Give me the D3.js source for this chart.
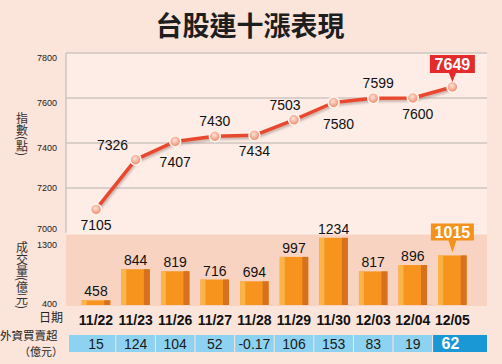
<!DOCTYPE html>
<html>
<head>
<meta charset="utf-8">
<script src="https://cdn.jsdelivr.net/npm/d3@7"></script>
<style>
  body { margin: 0; background: #fbe4da; }
  svg text { font-family: "Liberation Sans", Arial, sans-serif; }
  svg text.cjk { font-family: "Noto Sans CJK TC", "Noto Sans CJK SC", sans-serif; }
</style>
</head>
<body>
<div id="chart"></div>
<script>
// data
var dates = ["11/22", "11/23", "11/26", "11/27", "11/28", "11/29", "11/30", "12/03", "12/04", "12/05"];
var indexValues = [7105, 7326, 7407, 7430, 7434, 7503, 7580, 7599, 7600, 7649];
var volumeValues = [458, 844, 819, 716, 694, 997, 1234, 817, 896, 1015];
var foreignValues = ["15", "124", "104", "52", "-0.17", "106", "153", "83", "19", "62"];
var indexTicks = [7000, 7200, 7400, 7600, 7800];
var volumeTicks = [400, 1300];

var W = 502, H = 364;
var left = 66, right = 487;

var svg = d3.select("#chart").append("svg")
  .attr("width", W).attr("height", H);

var defs = svg.append("defs");
var grad = defs.append("radialGradient").attr("id", "dot")
  .attr("cx", "45%").attr("cy", "40%").attr("r", "60%");
grad.append("stop").attr("offset", "0%").attr("stop-color", "#fde3d6");
grad.append("stop").attr("offset", "100%").attr("stop-color", "#ef8467");
var shadow = defs.append("filter").attr("id", "shadow")
  .attr("x", "-10%").attr("y", "-20%").attr("width", "120%").attr("height", "160%");
shadow.append("feDropShadow").attr("dx", 1).attr("dy", 2)
  .attr("stdDeviation", 1).attr("flood-color", "#8a6a60").attr("flood-opacity", 0.45);

// background
svg.append("rect").attr("width", W).attr("height", H).attr("fill", "#fbe4da");

// scales
var x = d3.scaleBand().domain(dates).range([76.2, 472.2]).padding(0);
var cx = function (d) { return x(d) + x.bandwidth() / 2; };
var yTop = d3.scaleLinear().domain([7000, 7800]).range([233, 53]);
var yVol = d3.scaleLinear().domain([400, 1300]).range([305, 232.5]);

// title
svg.append("text").attr("class", "cjk")
  .attr("x", 250).attr("y", 36)
  .attr("text-anchor", "middle")
  .attr("font-size", 27).attr("font-weight", 700)
  .attr("fill", "#1e1e1e")
  .text("台股連十漲表現");

// top panel
svg.append("rect").attr("x", left).attr("y", 53)
  .attr("width", right - left).attr("height", 180)
  .attr("fill", "#fdede6");
svg.append("g").selectAll("line").data(indexTicks.slice(1)).enter().append("line")
  .attr("x1", left).attr("x2", right)
  .attr("y1", function (d) { return yTop(d); })
  .attr("y2", function (d) { return yTop(d); })
  .attr("stroke", "#cfc5c0").attr("stroke-width", 1.5);
svg.append("line").attr("x1", left).attr("x2", left)
  .attr("y1", 53).attr("y2", 233)
  .attr("stroke", "#cfc5c0").attr("stroke-width", 1.5);

var axTop = svg.append("g").attr("transform", "translate(57,0)")
  .call(d3.axisLeft(yTop).tickValues(indexTicks).tickFormat(d3.format("d")).tickSize(0).tickPadding(0));
axTop.select(".domain").remove();
axTop.selectAll("text")
  .attr("font-size", 9).attr("fill", "#222")
  .attr("font-family", "Liberation Sans, Arial, sans-serif")
  .attr("dy", function (d) { return d === 7000 ? "-0.2em" : d === 7200 ? "0.32em" : "0.85em"; });

// bottom panel
svg.append("rect").attr("x", left).attr("y", 233)
  .attr("width", right - left).attr("height", 73)
  .attr("fill", "#f9d3c2");
svg.append("line").attr("x1", left).attr("x2", right)
  .attr("y1", 233.5).attr("y2", 233.5)
  .attr("stroke", "#fdeee8").attr("stroke-width", 2);

var axVol = svg.append("g").attr("transform", "translate(57,0)")
  .call(d3.axisLeft(yVol).tickValues(volumeTicks).tickFormat(d3.format("d")).tickSize(0).tickPadding(0));
axVol.select(".domain").remove();
axVol.selectAll("text")
  .attr("font-size", 9).attr("fill", "#222")
  .attr("font-family", "Liberation Sans, Arial, sans-serif")
  .attr("dy", function (d) { return d === 1300 ? "1.7em" : "0.2em"; });

// vertical titles
svg.append("text").attr("class", "cjk")
  .attr("x", 22).attr("y", 112)
  .style("writing-mode", "vertical-rl")
  .attr("font-size", 12).attr("fill", "#333")
  .text("指數(點)");
svg.append("text").attr("class", "cjk")
  .attr("x", 22).attr("y", 241)
  .style("writing-mode", "vertical-rl")
  .attr("font-size", 12).attr("fill", "#333")
  .text("成交量(億元)");

// bars
var bw = 28.5;
var bars = svg.append("g").selectAll("g.bar").data(volumeValues).enter().append("g")
  .attr("class", "bar")
  .attr("transform", function (d, i) { return "translate(" + (cx(dates[i]) - bw / 2) + ",0)"; });
bars.append("rect")
  .attr("y", function (d) { return yVol(d); })
  .attr("width", bw)
  .attr("height", function (d) { return yVol(400) - yVol(d); })
  .attr("fill", "#f7941e");
bars.append("rect")
  .attr("y", function (d) { return yVol(d); })
  .attr("width", 5)
  .attr("height", function (d) { return yVol(400) - yVol(d); })
  .attr("fill", "#fbb447");
bars.append("rect")
  .attr("x", bw - 6)
  .attr("y", function (d) { return yVol(d); })
  .attr("width", 6)
  .attr("height", function (d) { return yVol(400) - yVol(d); })
  .attr("fill", "#d8711d");
bars.filter(function (d, i) { return i < volumeValues.length - 1; })
  .append("text")
  .attr("x", bw / 2)
  .attr("y", function (d) { return yVol(d) - 4; })
  .attr("text-anchor", "middle")
  .attr("font-size", 14).attr("fill", "#111")
  .text(function (d) { return d; });

// highlight last volume
var lastI = dates.length - 1;
var vx = cx(dates[lastI]), vTop = yVol(volumeValues[lastI]);
svg.append("path")
  .attr("d", "M" + (vx - 21.5) + "," + (vTop - 32) + "h43v17h-17.5l-4,12l-4,-12h-17.5z")
  .attr("fill", "#f5921e");
svg.append("text")
  .attr("x", vx).attr("y", vTop - 17.5)
  .attr("text-anchor", "middle")
  .attr("font-size", 16).attr("font-weight", 700).attr("fill", "#fff")
  .text(volumeValues[lastI]);

// index line
var line = d3.line()
  .x(function (d, i) { return cx(dates[i]); })
  .y(function (d) { return yTop(d); });
svg.append("path").datum(indexValues)
  .attr("d", line)
  .attr("fill", "none")
  .attr("stroke", "#e8492f").attr("stroke-width", 3.5)
  .attr("stroke-linejoin", "round")
  .attr("filter", "url(#shadow)");
svg.append("g").selectAll("circle").data(indexValues).enter().append("circle")
  .attr("cx", function (d, i) { return cx(dates[i]); })
  .attr("cy", function (d) { return yTop(d); })
  .attr("r", 5.5)
  .attr("fill", "url(#dot)")
  .attr("stroke", "#fff4ef").attr("stroke-width", 1.5);

// point labels, alternating below / above
svg.append("g").selectAll("text")
  .data(indexValues.slice(0, indexValues.length - 1)).enter().append("text")
  .attr("x", function (d, i) { return cx(dates[i]) + (i === 1 ? -23 : i === 5 ? -9 : i > 5 ? 5 : 0); })
  .attr("y", function (d, i) { return yTop(d) + (i % 2 === 0 ? (i === 2 || i === 6 ? 26 : 21) : -10); })
  .attr("text-anchor", "middle")
  .attr("font-size", 14).attr("fill", "#111")
  .text(function (d) { return d; });

// highlight last index
var px = cx(dates[lastI]), py = yTop(indexValues[lastI]);
svg.append("path")
  .attr("d", "M" + (px - 22.5) + "," + (py - 32) + "h45v18h-19l-3.5,9l-3.5,-9h-19z")
  .attr("fill", "#e42a2a");
svg.append("text")
  .attr("x", px).attr("y", py - 17)
  .attr("text-anchor", "middle")
  .attr("font-size", 16).attr("font-weight", 700).attr("fill", "#fff")
  .text(indexValues[lastI]);

// date row
svg.append("text").attr("class", "cjk")
  .attr("x", 63).attr("y", 322)
  .attr("text-anchor", "end")
  .attr("font-size", 12).attr("fill", "#222")
  .text("日期");
svg.append("g").selectAll("text").data(dates).enter().append("text")
  .attr("x", function (d) { return cx(d); })
  .attr("y", 325)
  .attr("text-anchor", "middle")
  .attr("font-size", 14).attr("font-weight", 700).attr("fill", "#111")
  .text(function (d) { return d; });

// foreign net buy row (two-line label)
svg.append("text").attr("class", "cjk")
  .attr("x", 0).attr("y", 339.5)
  .attr("font-size", 11.5).attr("fill", "#222")
  .text("外資買賣超");
svg.append("text").attr("class", "cjk")
  .attr("x", 63).attr("y", 356)
  .attr("text-anchor", "end")
  .attr("font-size", 11).attr("fill", "#222")
  .text("（億元）");

var cells = svg.append("g").selectAll("g").data(foreignValues).enter().append("g");
cells.append("rect")
  .attr("x", function (d, i) { return i === 0 ? 69 : x(dates[i]) + 0.5; })
  .attr("width", function (d, i) {
    var x0 = i === 0 ? 69 : x(dates[i]) + 0.5;
    var x1 = i === lastI ? right : x(dates[i]) + x.bandwidth() - 0.5;
    return x1 - x0;
  })
  .attr("y", 335).attr("height", 17)
  .attr("fill", function (d, i) { return i === lastI ? "#1a98d5" : "#8dd3f1"; });
cells.append("text")
  .attr("x", function (d, i) { return cx(dates[i]) + (i === lastI ? -2 : 0); })
  .attr("y", 348.5)
  .attr("text-anchor", "middle")
  .attr("font-size", function (d, i) { return i === lastI ? 16 : 14; })
  .attr("font-weight", function (d, i) { return i === lastI ? 700 : 400; })
  .attr("fill", function (d, i) { return i === lastI ? "#fff" : "#1a1a1a"; })
  .text(function (d) { return d; });
</script>
</body>
</html>
